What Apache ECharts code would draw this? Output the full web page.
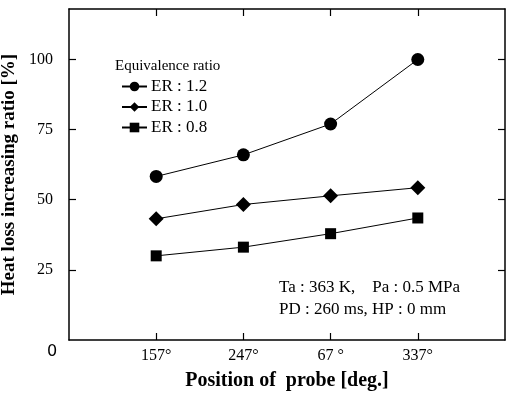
<!DOCTYPE html>
<html>
<head>
<meta charset="utf-8">
<script src="https://cdn.jsdelivr.net/npm/echarts@6/dist/echarts.min.js"></script>
<style>
  html, body { margin: 0; padding: 0; background: #fff; }
  #chart { width: 506px; height: 395px; }
</style>
</head>
<body>
<div id="chart"></div>
<script>
// 探针位置 (x 轴类别)
const categories = ['157°', '247°', '67 °', '337°']
const positions = [1, 2, 3, 4]
// 各当量比的热损失增加率 [%]
const er12 = [58.3, 66.0, 77.0, 100.0]
const er10 = [43.2, 48.3, 51.4, 54.3]
const er08 = [30.0, 33.1, 37.9, 43.5]
const yTicks = [25, 50, 75, 100]

const serif = '"Liberation Serif", "DejaVu Serif", serif'
const chart = echarts.init(document.getElementById('chart'))

const makeSeries = (name, values, symbol, size) => ({
  name,
  type: 'line',
  data: values.map((v, i) => [positions[i], v]),
  symbol,
  symbolSize: size,
  itemStyle: { color: '#000' },
  lineStyle: { color: '#000', width: 1 },
  animation: false
})

// 刻度线朝内, 用 customValues 指定刻度位置
const frameTick = (values) => ({
  show: true,
  inside: true,
  length: 7,
  customValues: values,
  lineStyle: { color: '#000', width: 1.2 }
})
const frameLine = () => ({ show: true, onZero: false, lineStyle: { color: '#000', width: 1.5 } })

const option = {
  animation: false,
  grid: { left: 69, top: 9, right: 1, bottom: 55, containLabel: false, outerBoundsMode: 'none' },
  legend: {
    orient: 'vertical',
    left: 121,
    top: 78,
    padding: 0,
    itemWidth: 25,
    itemHeight: 12,
    itemGap: 3.5,
    textStyle: { fontFamily: serif, fontSize: 17, color: '#000', padding: [0, 0, 0, -1] },
    data: ['ER : 1.2', 'ER : 1.0', 'ER : 0.8']
  },
  xAxis: [
    {
      type: 'value',
      min: 0,
      max: 5,
      interval: 1,
      name: 'Position of  probe [deg.]',
      nameLocation: 'middle',
      nameGap: 31,
      nameTextStyle: { fontFamily: serif, fontSize: 20, fontWeight: 'bold', color: '#000' },
      axisLine: frameLine(),
      axisTick: frameTick(positions),
      axisLabel: {
        fontFamily: serif,
        fontSize: 16,
        color: '#000',
        margin: 8,
        customValues: positions,
        formatter: (v) => categories[positions.indexOf(v)] || ''
      },
      splitLine: { show: false }
    },
    {
      type: 'value',
      position: 'top',
      min: 0,
      max: 5,
      interval: 1,
      axisLine: frameLine(),
      axisTick: frameTick(positions),
      axisLabel: { show: false },
      splitLine: { show: false }
    }
  ],
  yAxis: [
    {
      type: 'value',
      min: 0,
      max: 118,
      interval: 25,
      name: 'Heat loss increasing ratio [%]',
      nameLocation: 'middle',
      nameGap: 47,
      nameTextStyle: { fontFamily: serif, fontSize: 19, fontWeight: 'bold', color: '#000' },
      axisLine: frameLine(),
      axisTick: frameTick(yTicks),
      axisLabel: {
        fontFamily: serif,
        fontSize: 16,
        color: '#000',
        margin: 16,
        customValues: yTicks
      },
      splitLine: { show: false }
    },
    {
      type: 'value',
      position: 'right',
      min: 0,
      max: 118,
      interval: 25,
      axisLine: frameLine(),
      axisTick: frameTick(yTicks),
      axisLabel: { show: false },
      splitLine: { show: false }
    }
  ],
  graphic: [
    {
      type: 'text',
      left: 115,
      top: 59,
      style: { text: 'Equivalence ratio', font: '15px ' + serif, fill: '#000' }
    },
    {
      type: 'text',
      left: 279,
      top: 279,
      style: { text: 'Ta : 363 K,    Pa : 0.5 MPa', font: '17px ' + serif, fill: '#000' }
    },
    {
      type: 'text',
      left: 279,
      top: 301,
      style: { text: 'PD : 260 ms, HP : 0 mm', font: '17px ' + serif, fill: '#000' }
    },
    {
      type: 'text',
      left: 47,
      top: 344,
      style: { text: '0', font: '16px "DejaVu Sans", sans-serif', fill: '#000' }
    }
  ],
  series: [
    makeSeries('ER : 1.2', er12, 'circle', 13),
    makeSeries('ER : 1.0', er10, 'diamond', 15),
    makeSeries('ER : 0.8', er08, 'rect', 11)
  ]
}

chart.setOption(option)
</script>
</body>
</html>
